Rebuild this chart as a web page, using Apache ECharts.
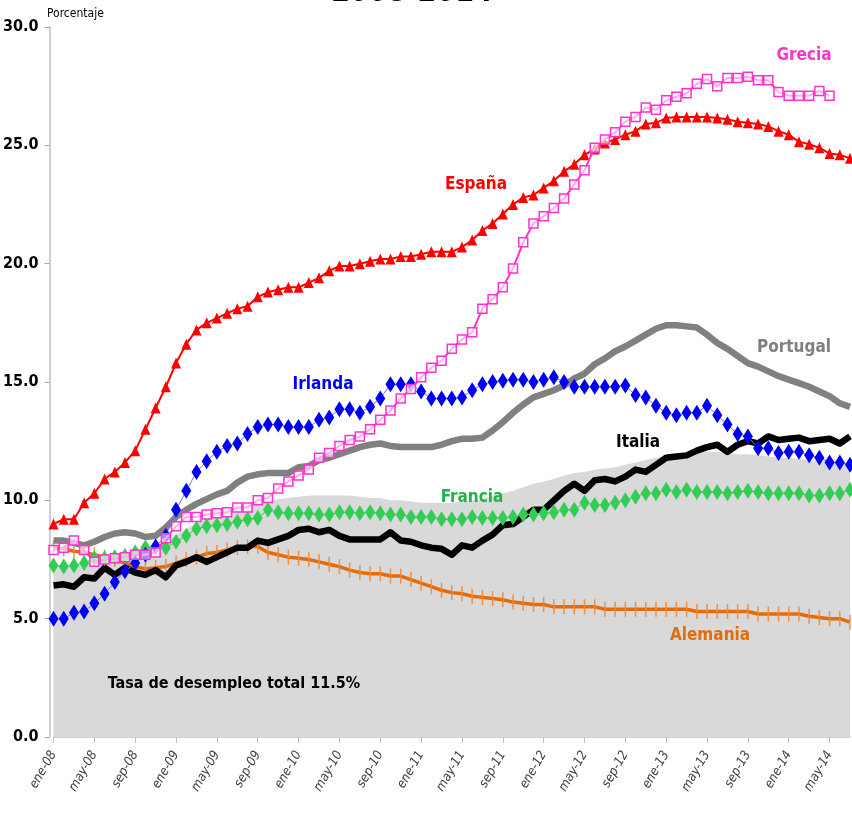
<!DOCTYPE html>
<html>
<head>
<meta charset="utf-8">
<script src="https://cdn.jsdelivr.net/npm/echarts@6/dist/echarts.min.js"></script>
<style>
  html, body { margin: 0; padding: 0; background: #fff; }
  #chart { width: 852px; height: 817px; }
</style>
</head>
<body>
<div id="chart"></div>
<script>
// meses ene-08 .. jul-14
const monthNames = ['ene', 'feb', 'mar', 'abr', 'may', 'jun', 'jul', 'ago', 'sep', 'oct', 'nov', 'dic']
const months = []
for (let y = 8; y <= 14; y++) {
  for (let m = 0; m < 12; m++) {
    if (y === 14 && m > 6) break
    months.push(monthNames[m] + '-' + (y < 10 ? '0' + y : y))
  }
}

// tasa de desempleo, porcentaje
const zonaEuro = [7.3, 7.25, 7.2, 7.3, 7.4, 7.45, 7.55, 7.65, 7.75, 7.9, 8.1, 8.3, 8.55, 8.8, 9.05, 9.25, 9.45, 9.6, 9.7, 9.8,
  9.9, 10.0, 10.05, 10.1, 10.15, 10.2, 10.2, 10.2, 10.2, 10.2, 10.15, 10.1, 10.1, 10.0, 10.0, 9.95, 9.9, 9.9, 9.9, 9.9,
  9.95, 10.0, 10.05, 10.2, 10.3, 10.4, 10.55, 10.7, 10.8, 10.9, 11.05, 11.15, 11.2, 11.3, 11.35, 11.4, 11.5, 11.6, 11.7, 11.8,
  11.85, 11.9, 12.0, 12.0, 12.05, 12.05, 12.0, 11.95, 11.95, 11.9, 11.85, 11.8, 11.8, 11.75, 11.7, 11.65, 11.6, 11.55, 11.55]
const espana = [9.0, 9.2, 9.2, 9.9, 10.3, 10.9, 11.2, 11.6, 12.1, 13.0, 13.9, 14.8, 15.8, 16.6, 17.2, 17.5, 17.7, 17.9, 18.1, 18.2,
  18.6, 18.8, 18.9, 19.0, 19.0, 19.2, 19.4, 19.7, 19.9, 19.9, 20.0, 20.1, 20.2, 20.2, 20.3, 20.3, 20.4, 20.5, 20.5, 20.5,
  20.7, 21.0, 21.4, 21.7, 22.1, 22.5, 22.8, 22.9, 23.2, 23.5, 23.9, 24.2, 24.6, 24.85, 25.1, 25.25, 25.45, 25.6, 25.9, 25.95,
  26.15, 26.2, 26.2, 26.2, 26.2, 26.15, 26.1, 26.0, 25.95, 25.9, 25.8, 25.6, 25.45, 25.15, 25.05, 24.9, 24.65, 24.6, 24.45]
const grecia = [7.9, 8.0, 8.3, 7.9, 7.4, 7.5, 7.55, 7.6, 7.7, 7.7, 7.8, 8.4, 8.9, 9.3, 9.3, 9.4, 9.45, 9.5, 9.7, 9.7,
  10.0, 10.1, 10.5, 10.8, 11.05, 11.3, 11.8, 12.0, 12.3, 12.55, 12.7, 13.0, 13.4, 13.8, 14.3, 14.7, 15.2, 15.6, 15.9, 16.4,
  16.8, 17.1, 18.1, 18.5, 19.0, 19.8, 20.9, 21.7, 22.0, 22.35, 22.75, 23.35, 23.95, 24.9, 25.25, 25.55, 26.0, 26.2, 26.6, 26.5,
  26.9, 27.05, 27.2, 27.6, 27.8, 27.5, 27.85, 27.85, 27.9, 27.75, 27.75, 27.25, 27.1, 27.1, 27.1, 27.3, 27.1, null, null]
const irlanda = [5.0, 5.0, 5.25, 5.3, 5.65, 6.05, 6.55, 7.0, 7.35, 7.7, 8.05, 8.5, 9.6, 10.4, 11.2, 11.65, 12.05, 12.3, 12.4, 12.8,
  13.1, 13.2, 13.2, 13.1, 13.1, 13.1, 13.4, 13.5, 13.85, 13.85, 13.7, 13.95, 14.3, 14.9, 14.9, 14.9, 14.6, 14.3, 14.3, 14.3,
  14.35, 14.65, 14.9, 15.0, 15.05, 15.1, 15.1, 15.0, 15.1, 15.2, 15.0, 14.8, 14.8, 14.8, 14.8, 14.8, 14.85, 14.45, 14.35, 14.0,
  13.7, 13.6, 13.7, 13.7, 14.0, 13.6, 13.2, 12.8, 12.7, 12.2, 12.2, 12.0, 12.05, 12.05, 11.9, 11.8, 11.6, 11.6, 11.5]
const portugal = [8.3, 8.3, 8.2, 8.1, 8.25, 8.45, 8.6, 8.65, 8.6, 8.45, 8.5, 8.85, 9.3, 9.6, 9.85, 10.05, 10.25, 10.4, 10.75, 11.0,
  11.1, 11.15, 11.15, 11.15, 11.4, 11.45, 11.7, 11.8, 11.95, 12.1, 12.25, 12.35, 12.4, 12.3, 12.25, 12.25, 12.25, 12.25, 12.35, 12.5,
  12.6, 12.6, 12.65, 12.95, 13.3, 13.7, 14.05, 14.35, 14.5, 14.65, 14.85, 15.15, 15.35, 15.75, 16.0, 16.3, 16.5, 16.75, 17.0, 17.25,
  17.4, 17.4, 17.35, 17.3, 17.0, 16.65, 16.4, 16.1, 15.8, 15.65, 15.45, 15.25, 15.1, 14.95, 14.8, 14.6, 14.4, 14.1, 13.95]
const italia = [6.4, 6.45, 6.35, 6.75, 6.7, 7.15, 6.85, 7.15, 6.95, 6.85, 7.05, 6.75, 7.25, 7.4, 7.6, 7.4, 7.6, 7.8, 8.0, 8.0,
  8.3, 8.2, 8.35, 8.5, 8.75, 8.8, 8.65, 8.75, 8.5, 8.35, 8.35, 8.35, 8.35, 8.65, 8.3, 8.25, 8.1, 8.0, 7.95, 7.7,
  8.1, 8.0, 8.3, 8.55, 8.95, 9.0, 9.3, 9.6, 9.6, 10.0, 10.4, 10.7, 10.4, 10.85, 10.9, 10.8, 11.0, 11.3, 11.2, 11.5,
  11.8, 11.85, 11.9, 12.1, 12.25, 12.35, 12.05, 12.35, 12.5, 12.4, 12.7, 12.55, 12.6, 12.65, 12.5, 12.55, 12.6, 12.4, 12.7]
const francia = [7.25, 7.2, 7.25, 7.35, 7.55, 7.55, 7.6, 7.65, 7.8, 8.0, 8.05, 8.0, 8.25, 8.5, 8.8, 8.9, 8.95, 9.0, 9.1, 9.2,
  9.25, 9.6, 9.5, 9.45, 9.45, 9.45, 9.4, 9.4, 9.5, 9.5, 9.45, 9.5, 9.45, 9.4, 9.4, 9.3, 9.3, 9.3, 9.2, 9.2,
  9.2, 9.3, 9.25, 9.25, 9.25, 9.3, 9.4, 9.4, 9.45, 9.5, 9.6, 9.6, 9.9, 9.8, 9.8, 9.9, 10.0, 10.15, 10.3, 10.3,
  10.45, 10.35, 10.45, 10.35, 10.35, 10.35, 10.3, 10.35, 10.4, 10.35, 10.3, 10.3, 10.3, 10.3, 10.2, 10.2, 10.3, 10.3, 10.45]
const alemania = [8.0, 7.95, 7.85, 7.8, 7.7, 7.6, 7.5, 7.35, 7.2, 7.1, 7.15, 7.2, 7.35, 7.5, 7.6, 7.75, 7.8, 7.9, 8.0, 8.05,
  8.05, 7.8, 7.7, 7.6, 7.55, 7.5, 7.4, 7.3, 7.2, 7.05, 6.95, 6.9, 6.9, 6.8, 6.8, 6.65, 6.5, 6.35, 6.2, 6.1,
  6.05, 5.95, 5.9, 5.85, 5.8, 5.7, 5.65, 5.6, 5.6, 5.5, 5.5, 5.5, 5.5, 5.5, 5.4, 5.4, 5.4, 5.4, 5.4, 5.4,
  5.4, 5.4, 5.4, 5.3, 5.3, 5.3, 5.3, 5.3, 5.3, 5.2, 5.2, 5.2, 5.2, 5.2, 5.1, 5.05, 5.0, 5.0, 4.85]

const FONT = '"DejaVu Sans Condensed", "DejaVu Sans", sans-serif'

const chart = echarts.init(document.getElementById('chart'))

function label(text, x, y, color, size) {
  return {
    type: 'text',
    x: x,
    y: y,
    z: 100,
    style: {
      text: text,
      fill: color,
      font: 'bold ' + size + 'px ' + FONT,
      align: 'center',
      verticalAlign: 'middle'
    }
  }
}

chart.setOption({
  animation: false,
  backgroundColor: '#fff',
  grid: { left: 53, right: 2, top: 27, bottom: 80 },
  xAxis: {
    type: 'category',
    data: months,
    boundaryGap: false,
    axisLine: { lineStyle: { color: '#BFBFBF', width: 1.5 } },
    axisTick: { interval: 3, length: 6, lineStyle: { color: '#BFBFBF' } },
    axisLabel: {
      interval: 3,
      rotate: 60,
      fontFamily: FONT,
      fontStyle: 'italic',
      fontSize: 13,
      color: '#404040',
      margin: 15
    },
    splitLine: { show: false }
  },
  yAxis: {
    type: 'value',
    min: 0,
    max: 30,
    interval: 5,
    offset: 4,
    axisLine: { show: true, lineStyle: { color: '#BFBFBF', width: 1.5 } },
    axisTick: { show: true, length: 5, lineStyle: { color: '#A6A6A6' } },
    axisLabel: {
      formatter: v => v.toFixed(1),
      fontFamily: FONT,
      fontWeight: 'bold',
      fontSize: 16,
      color: '#000',
      margin: 11
    },
    splitLine: { show: false }
  },
  series: [
    {
      name: 'Zona euro',
      type: 'line',
      data: zonaEuro,
      symbol: 'none',
      lineStyle: { width: 0 },
      areaStyle: { color: '#D9D9D9', opacity: 1 },
      z: 1
    },
    {
      name: 'Alemania',
      type: 'line',
      data: alemania,
      showAllSymbol: true,
      symbol: 'rect',
      symbolSize: [1.5, 15],
      itemStyle: { color: '#EC8A3C', opacity: 0.9 },
      lineStyle: { color: '#E36C09', width: 3.5 },
      z: 2
    },
    {
      name: 'Italia',
      type: 'line',
      data: italia,
      symbol: 'none',
      lineStyle: { color: '#000', width: 6.5, join: 'round' },
      z: 3
    },
    {
      name: 'Portugal',
      type: 'line',
      data: portugal,
      symbol: 'none',
      lineStyle: { color: '#808080', width: 6.5, join: 'round' },
      z: 3
    },
    {
      name: 'Francia',
      type: 'line',
      data: francia,
      showAllSymbol: true,
      symbol: 'diamond',
      symbolSize: [10, 16],
      itemStyle: { color: '#33CC55' },
      lineStyle: { color: '#33CC55', width: 1 },
      z: 4
    },
    {
      name: 'Irlanda',
      type: 'line',
      data: irlanda,
      showAllSymbol: true,
      symbol: 'diamond',
      symbolSize: [10, 16],
      itemStyle: { color: '#0000F0' },
      lineStyle: { color: '#7070FF', width: 1 },
      z: 5
    },
    {
      name: 'España',
      type: 'line',
      data: espana,
      showAllSymbol: true,
      symbol: 'triangle',
      symbolSize: [10, 11],
      itemStyle: { color: '#FF0000' },
      lineStyle: { color: '#FF0000', width: 2 },
      z: 6
    },
    {
      name: 'Grecia',
      type: 'line',
      data: grecia,
      showAllSymbol: true,
      symbol: 'rect',
      symbolSize: 9,
      itemStyle: { color: 'rgba(255,255,255,0.6)', borderColor: '#FF33CC', borderWidth: 1.5 },
      lineStyle: { color: '#FF33CC', width: 2 },
      z: 7
    }
  ],
  graphic: [
    {
      type: 'text',
      x: 412,
      y: 8,
      style: {
        text: '2008-2014',
        fill: '#000',
        font: 'bold 30px ' + FONT,
        align: 'center',
        verticalAlign: 'bottom'
      }
    },
    {
      type: 'text',
      x: 47,
      y: 14,
      style: {
        text: 'Porcentaje',
        fill: '#000',
        font: '12px ' + FONT,
        align: 'left',
        verticalAlign: 'middle'
      }
    },
    label('Grecia', 804, 56, '#FF33CC', 17),
    label('España', 476, 185, '#FF0000', 17),
    label('Irlanda', 323, 385, '#0000F0', 17),
    label('Portugal', 794, 348, '#808080', 17),
    label('Italia', 638, 443, '#000', 17),
    label('Francia', 472, 498, '#22B24C', 17),
    label('Alemania', 710, 636, '#E36C09', 17),
    label('Tasa de desempleo total 11.5%', 234, 684, '#000', 16)
  ]
})
</script>
</body>
</html>
